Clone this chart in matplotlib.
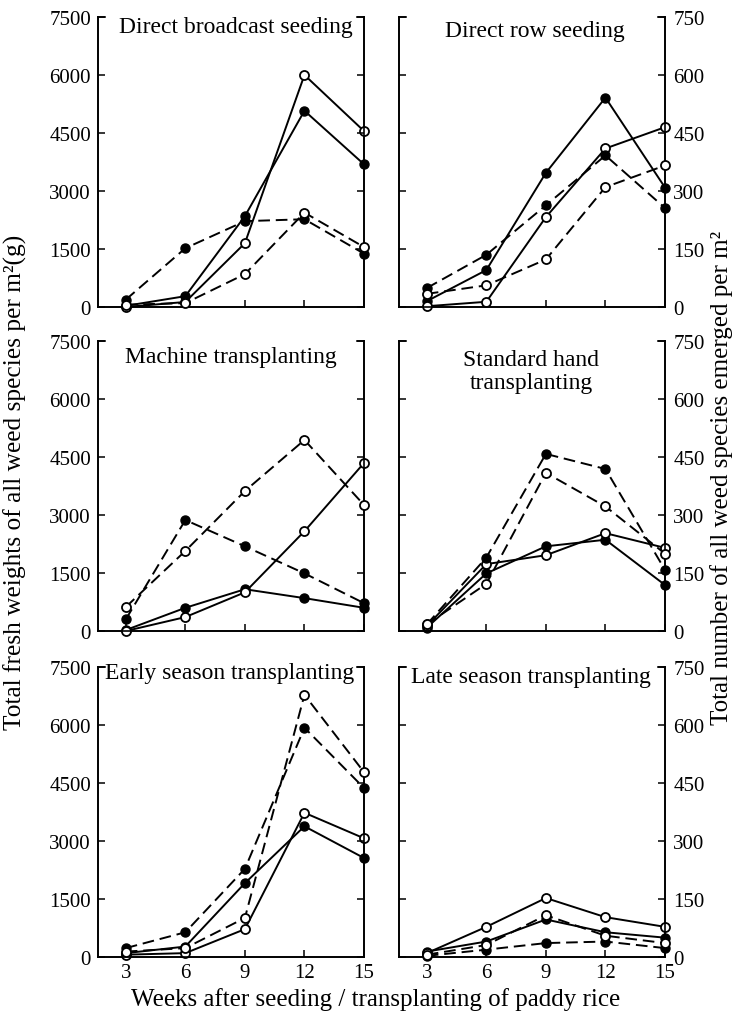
import matplotlib
matplotlib.use("Agg")
import matplotlib.pyplot as plt

plt.rcParams['font.family'] = ['Liberation Serif', 'DejaVu Serif']

weeks = [3, 6, 9, 12, 15]

titles = ["Direct broadcast seeding", "Direct row seeding",
          "Machine transplanting", "Standard hand\ntransplanting",
          "Early season transplanting", "Late season transplanting"]

# fresh weight of weeds, g per m2 (left axis, solid lines)
wt_open = [
    [0, 130, 1650, 6000, 4550],
    [20, 135, 2325, 4100, 4650],
    [0, 360, 1000, 2580, 4345],
    [130, 1730, 1960, 2530, 2150],
    [60, 100, 720, 3730, 3070],
    [100, 780, 1525, 1030, 780],
]
wt_filled = [
    [30, 280, 2350, 5075, 3690],
    [150, 955, 3470, 5415, 3090],
    [25, 600, 1080, 850, 600],
    [85, 1490, 2190, 2360, 1190],
    [100, 270, 1910, 3380, 2560],
    [140, 400, 970, 640, 500],
]
# number of weeds emerged per m2 (right axis, dashed lines)
num_open = [
    [6, 10, 85, 244, 155],
    [34, 56, 123, 310, 366],
    [62, 207, 362, 494, 326],
    [17, 122, 409, 322, 200],
    [14, 23, 101, 678, 478],
    [6, 31, 108, 55, 36],
]
num_filled = [
    [19, 152, 222, 227, 138],
    [49, 135, 263, 392, 256],
    [30, 287, 219, 149, 72],
    [17, 190, 458, 419, 158],
    [23, 64, 228, 593, 437],
    [3, 19, 36, 40, 23],
]

# where each panel title sits (axes fraction)
title_pos = [(0.52, 0.966), (0.51, 0.952), (0.50, 0.948),
             (0.496, 0.897), (0.494, 0.98), (0.496, 0.966)]

fig = plt.figure(figsize=(7.37, 10.12), dpi=100)

lefts = [98 / 737, 399 / 737]
bottoms = [704 / 1012, 380 / 1012, 54 / 1012]
w = 266 / 737
h = 290 / 1012

fs = 15
lw = 1.4
ms = 6.5

for i in range(6):
    r, c = divmod(i, 2)
    ax = fig.add_axes([lefts[c], bottoms[r], w, h])
    ax2 = ax.twinx()

    ax.plot(weeks, wt_filled[i], '-o', color='k', lw=lw, ms=ms, mfc='k', clip_on=False, zorder=3)
    ax.plot(weeks, wt_open[i], '-o', color='k', lw=lw, ms=ms, mfc='white', mew=1.3, clip_on=False, zorder=4)
    ax2.plot(weeks, num_filled[i], '--o', color='k', lw=lw, ms=ms, mfc='k', dashes=(6, 3), clip_on=False, zorder=3)
    ax2.plot(weeks, num_open[i], '--o', color='k', lw=lw, ms=ms, mfc='white', mew=1.3, dashes=(6, 3), clip_on=False, zorder=4)

    ax.set_xlim(1.6, 15)
    ax.set_ylim(0, 7500)
    ax2.set_ylim(0, 750)
    ax.set_xticks(weeks)
    ax.set_yticks(range(0, 7501, 1500))
    ax2.set_yticks(range(0, 751, 150))

    for a in (ax, ax2):
        a.spines['top'].set_visible(False)
        for s in a.spines.values():
            s.set_linewidth(1.2)
        a.tick_params(direction='in', length=5, width=1.1, labelsize=fs)
    ax.tick_params(axis='x', pad=4)
    ax.tick_params(axis='y', pad=5)
    ax2.tick_params(axis='y', pad=6)

    if r < 2:
        ax.tick_params(axis='x', labelbottom=False)
    if c == 0:
        ax2.tick_params(axis='y', labelright=False)
    else:
        ax.tick_params(axis='y', labelleft=False)

    # little hooks at top of both side spines
    ax.plot([0, 0.025], [1, 1], color='k', lw=1.2, transform=ax.transAxes, clip_on=False)
    ax.plot([0.975, 1], [1, 1], color='k', lw=1.2, transform=ax.transAxes, clip_on=False)

    tx, ty = title_pos[i]
    ax.text(tx, ty, titles[i], transform=ax.transAxes, ha='center', va='center',
            fontsize=17, linespacing=1.1)

fig.text(0.021, 0.523, "Total fresh weights of all weed species per m²(g)",
         rotation=90, ha='center', va='center', fontsize=18.3)
fig.text(0.979, 0.528, "Total number of all weed species emerged per m²",
         rotation=90, ha='center', va='center', fontsize=18)
fig.text(0.51, 0.012, "Weeks after seeding / transplanting of paddy rice",
         ha='center', va='center', fontsize=18)

fig.savefig("out.png", dpi=100)
